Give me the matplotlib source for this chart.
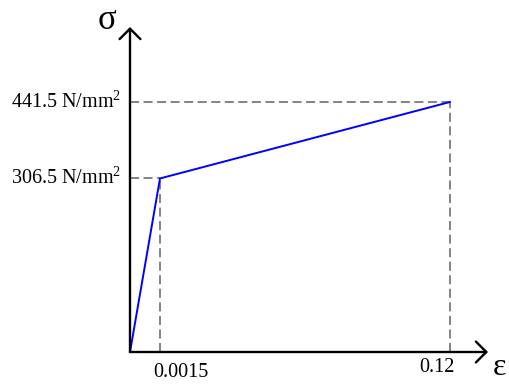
import numpy as np
import matplotlib
matplotlib.use('Agg')
import matplotlib.pyplot as plt
from matplotlib.patches import FancyArrowPatch

plt.rcParams['font.family'] = ['Liberation Serif', 'DejaVu Serif']
plt.rcParams['mathtext.fontset'] = 'custom'
plt.rcParams['mathtext.rm'] = 'Liberation Serif'

# Dane: wykres naprezenie - odksztalcenie (schemat)
strain = [0, 0.0015, 0.12]
stress = [0, 306.5, 441.5]
strain_labels = ['0.0015', '0.12']
stress_labels = [r'306.5 N/mm$^{2}$', r'441.5 N/mm$^{2}$']

# Os x jest schematyczna (nie w skali) - odcinkami liniowa
xs_ref = [0, 0.0015, 0.12, 1.0]
us_ref = [0, 1, 10.67, 10.67 + 0.88 * 81.6]


def forward(x):
    return np.interp(x, xs_ref, us_ref)


def inverse(u):
    return np.interp(u, us_ref, xs_ref)


fig = plt.figure(figsize=(5.1, 3.84), dpi=100)
ax = fig.add_axes([130 / 510, 32 / 384, 358 / 510, 325 / 384])
ax.set_xscale('function', functions=(forward, inverse))
ax.set_xlim(0, 0.1356)
ax.set_ylim(0, 574)
ax.axis('off')

gray = '#7a7a7a'
for x, y in zip(strain[1:], stress[1:]):
    ax.plot([0, x], [y, y], color=gray, lw=1.3, dashes=(5, 2.5), clip_on=False)
    ax.plot([x, x], [0, y], color=gray, lw=1.3, dashes=(5, 2.5), clip_on=False)

ax.plot(strain, stress, color='#0000ff', lw=1.4, clip_on=False, zorder=3)

# Osie ze strzalkami
for end in [(1, 0), (0, 1)]:
    arr = FancyArrowPatch((0, 0), end, transform=ax.transAxes,
                          arrowstyle='->,head_length=7.5,head_width=7.5',
                          mutation_scale=1, lw=1.7, color='black',
                          shrinkA=0, shrinkB=0, clip_on=False, zorder=4)
    ax.add_patch(arr)

# Etykiety naprezen
for y, lab in zip(stress[1:], stress_labels):
    ax.annotate(lab, (0, y), xytext=(-6, -4), textcoords='offset points',
                ha='right', va='baseline', fontsize=14.5)

# Etykiety odksztalcen
x_offsets = [(-5, -18), (3.6, -14.5)]
x_align = ['left', 'right']
for x, lab, off, ha in zip(strain[1:], strain_labels, x_offsets, x_align):
    ax.annotate(lab, (x, 0), xytext=off, textcoords='offset points',
                ha=ha, va='baseline', fontsize=14.5)

ax.annotate('σ', (0, 1), xycoords='axes fraction', xytext=(-16.6, -1.5),
            textcoords='offset points', ha='center', va='baseline', fontsize=25)
ax.annotate('ε', (1, 0), xycoords='axes fraction', xytext=(8.6, -16.5),
            textcoords='offset points', ha='center', va='baseline', fontsize=23)

fig.savefig('out.png', dpi=100)
